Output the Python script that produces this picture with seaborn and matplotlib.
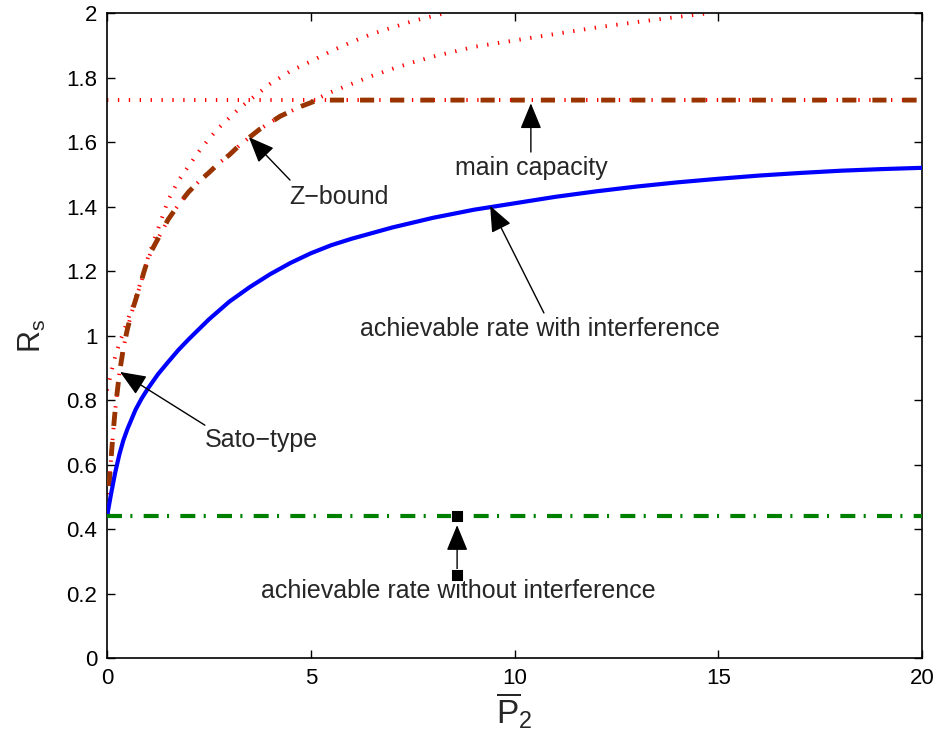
import matplotlib
matplotlib.use('Agg')
import matplotlib.pyplot as plt
import seaborn as sns

# values
x_interf = [0, 0.05, 0.1, 0.2, 0.3, 0.4, 0.5, 0.6, 0.7, 0.85, 1.0, 1.25, 1.5, 1.75, 2.0, 2.5, 3.0, 3.5,
            4.0, 4.5, 5.0, 5.5, 6.0, 7.0, 8.0, 9.0, 10, 11, 12, 13, 14, 15, 16, 17, 18, 19, 20]
rate_interf = [0.44, 0.475, 0.51, 0.575, 0.63, 0.675, 0.71, 0.74, 0.77, 0.805, 0.835, 0.88, 0.918, 0.955,
               0.988, 1.05, 1.105, 1.15, 1.19, 1.225, 1.255, 1.28, 1.30, 1.335, 1.365, 1.39, 1.41, 1.43,
               1.447, 1.462, 1.475, 1.486, 1.496, 1.504, 1.511, 1.516, 1.52]

x_sato = [0, 0.05, 0.1, 0.15, 0.2, 0.3, 0.4, 0.5, 0.6, 0.8, 1.0, 1.25, 1.5, 1.75, 2.0, 2.25, 2.5, 2.75,
          3.0, 3.25, 3.5, 3.75, 4.0, 4.5, 5.0, 5.5, 6.0, 6.5, 7.0, 7.5, 8.3]
sato = [0.44, 0.54, 0.62, 0.70, 0.77, 0.88, 0.96, 1.02, 1.07, 1.15, 1.24, 1.33, 1.42, 1.48, 1.525, 1.57,
        1.61, 1.645, 1.675, 1.705, 1.73, 1.755, 1.78, 1.82, 1.85, 1.882, 1.91, 1.935, 1.955, 1.975, 2.0]

x_zb = [0, 0.1, 0.2, 0.3, 0.4, 0.6, 0.8, 1.0, 1.1, 1.25, 1.5, 1.75, 2.0, 2.25, 2.5, 2.75, 3.0, 3.25, 3.5,
        3.75, 4.0, 4.25, 4.5, 4.75, 5.0, 5.5, 6.0, 6.5, 7.0, 7.5, 8.0, 9.0, 10.0, 11.0, 12.0, 13.0, 14.0, 14.8]
zbound = [0.83, 0.885, 0.935, 0.975, 1.01, 1.08, 1.155, 1.235, 1.265, 1.30, 1.36, 1.405, 1.445, 1.477,
          1.505, 1.535, 1.56, 1.59, 1.615, 1.64, 1.66, 1.68, 1.695, 1.71, 1.725, 1.755, 1.78, 1.805, 1.827,
          1.847, 1.865, 1.895, 1.915, 1.935, 1.955, 1.972, 1.988, 2.0]

x_bound = [0, 0.05, 0.1, 0.15, 0.2, 0.3, 0.4, 0.5, 0.6, 0.7, 0.8, 0.9, 1.0, 1.1, 1.25, 1.5, 1.75, 2.0,
           2.25, 2.5, 2.75, 3.0, 3.25, 3.5, 3.75, 4.0, 4.25, 4.5, 4.75, 5.0, 5.15, 20]
bound = [0.44, 0.54, 0.62, 0.70, 0.77, 0.88, 0.96, 1.02, 1.07, 1.11, 1.15, 1.195, 1.235, 1.265, 1.30, 1.36,
         1.405, 1.445, 1.477, 1.505, 1.535, 1.56, 1.59, 1.615, 1.64, 1.66, 1.68, 1.695, 1.71, 1.722, 1.73, 1.73]

x_flat = [0, 20]
main_cap = [1.73, 1.73]
rate_no_interf = [0.44, 0.44]

marker_x = [8.59, 8.59]
marker_y = [0.257, 0.44]

xticks = [0, 5, 10, 15, 20]
xtick_labels = ['0', '5', '10', '15', '20']
yticks = [0, 0.2, 0.4, 0.6, 0.8, 1.0, 1.2, 1.4, 1.6, 1.8, 2.0]
ytick_labels = ['0', '0.2', '0.4', '0.6', '0.8', '1', '1.2', '1.4', '1.6', '1.8', '2']

sns.set_style('ticks', {'axes.edgecolor': 'black', 'xtick.color': 'black', 'ytick.color': 'black',
                        'xtick.direction': 'in', 'ytick.direction': 'in'})
plt.rcParams['font.family'] = ['Liberation Sans', 'DejaVu Sans']
plt.rcParams['mathtext.fontset'] = 'custom'
plt.rcParams['mathtext.rm'] = 'Liberation Sans'
plt.rcParams['mathtext.it'] = 'Liberation Sans'

fig = plt.figure(figsize=(9.39, 7.40), dpi=100)
ax = fig.add_axes([0.114, 0.1108, 0.868, 0.8716])

red_dots = (0, (0.35, 2.45))
sns.lineplot(x=x_flat, y=main_cap, ax=ax, color='red', linewidth=2.8, linestyle=red_dots, zorder=2)
sns.lineplot(x=x_sato, y=sato, ax=ax, color='red', linewidth=2.8, linestyle=red_dots, zorder=2)
sns.lineplot(x=x_zb, y=zbound, ax=ax, color='red', linewidth=2.8, linestyle=red_dots, zorder=2)
sns.lineplot(x=x_bound, y=bound, ax=ax, color='#993300', linewidth=3.5, linestyle=(0, (2.9, 3.3)), zorder=3)
sns.lineplot(x=x_interf, y=rate_interf, ax=ax, color='blue', linewidth=3, zorder=4)
sns.lineplot(x=x_flat, y=rate_no_interf, ax=ax, color='green', linewidth=3,
             linestyle=(0, (3.6, 2.0, 0.5, 2.7)), zorder=4)
sns.scatterplot(x=marker_x, y=marker_y, ax=ax, color='black', marker='s', s=70, zorder=6)

# annotations
arrow = dict(arrowstyle='-|>,head_length=0.8,head_width=0.33', color='black', lw=1,
             shrinkA=0, shrinkB=0, mutation_scale=20)
ax.annotate('', xy=(3.48, 1.615), xytext=(4.49, 1.482), arrowprops=arrow, zorder=5)
ax.annotate('', xy=(10.4, 1.72), xytext=(10.4, 1.569), arrowprops=arrow, zorder=5)
ax.annotate('', xy=(9.4, 1.402), xytext=(10.72, 1.07), arrowprops=arrow, zorder=5)
ax.annotate('', xy=(0.32, 0.887), xytext=(2.40, 0.722), arrowprops=arrow, zorder=5)
ax.annotate('', xy=(8.59, 0.412), xytext=(8.59, 0.257), arrowprops=arrow, zorder=5)

fs = 18
ax.text(5.69, 1.408, 'Z\u2212bound', fontsize=fs, ha='center', va='baseline')
ax.text(10.4, 1.498, 'main capacity', fontsize=fs, ha='center', va='baseline')
ax.text(10.63, 1.0, 'achievable rate with interference', fontsize=fs, ha='center', va='baseline')
ax.text(3.79, 0.654, 'Sato\u2212type', fontsize=fs, ha='center', va='baseline')
ax.text(8.63, 0.186, 'achievable rate without interference', fontsize=fs, ha='center', va='baseline')

ax.set_xlim(0, 20)
ax.set_ylim(0, 2)
ax.set_xticks(xticks)
ax.set_xticklabels(xtick_labels)
ax.set_yticks(yticks)
ax.set_yticklabels(ytick_labels)
ax.tick_params(axis='both', which='both', direction='in', length=6, width=1,
               labelsize=16, pad=7, top=True, right=True)
for s in ax.spines.values():
    s.set_visible(True)
    s.set_linewidth(1.2)
    s.set_color('black')

ax.set_xlabel(r'$\overline{\mathrm{P}}_{2}$', fontsize=24)
ax.set_ylabel(r'$\mathrm{R}_{\mathrm{s}}$', fontsize=22)
ax.xaxis.set_label_coords(0.5, -0.05)
ax.yaxis.set_label_coords(-0.072, 0.5)

plt.savefig('out.png', dpi=100)
